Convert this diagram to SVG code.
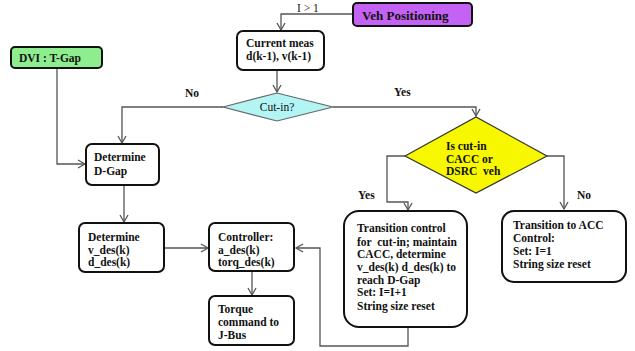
<svg xmlns="http://www.w3.org/2000/svg" width="635" height="351" viewBox="0 0 635 351">
<style>
text{font-family:"Liberation Serif","Times New Roman",serif;font-size:11.5px;fill:#111;font-weight:bold}
.n{font-weight:normal}
.box{fill:#fff;stroke:#111;stroke-width:2}
.c{fill:none;stroke:#555;stroke-width:1.3}
</style>
<defs>
<marker id="a" markerWidth="10" markerHeight="10" refX="8" refY="5" orient="auto" markerUnits="userSpaceOnUse">
<polyline points="1,1 8,5 1,9" fill="none" stroke="#555" stroke-width="1.3"/>
</marker>
</defs>
<rect width="635" height="351" fill="#fff"/>
<g id="connectors">
<polyline class="c" points="353,14 281,14 281,30" marker-end="url(#a)"/>
<line class="c" x1="277" y1="70" x2="277" y2="92" marker-end="url(#a)"/>
<polyline class="c" points="223,107 122,107 122,143" marker-end="url(#a)"/>
<polyline class="c" points="333,107 476,107 476,116" marker-end="url(#a)"/>
<polyline class="c" points="57,68 57,164 85,164" marker-end="url(#a)"/>
<line class="c" x1="124" y1="185" x2="124" y2="222" marker-end="url(#a)"/>
<line class="c" x1="164" y1="248" x2="208" y2="248" marker-end="url(#a)"/>
<line class="c" x1="252" y1="271" x2="252" y2="295" marker-end="url(#a)"/>
<polyline class="c" points="405,156 387,156 387,202 408,202 408,210" marker-end="url(#a)"/>
<polyline class="c" points="547,156 564,156 564,209" marker-end="url(#a)"/>
<polyline class="c" points="408,327 408,346 320,346 320,248 296,248" marker-end="url(#a)"/>
<text x="297" y="12" class="n">I &gt; 1</text>
<text x="185" y="97">No</text>
<text x="394" y="96">Yes</text>
<text x="358" y="199">Yes</text>
<text x="577" y="199">No</text>
</g>
<g id="veh">
<rect x="353" y="3" width="119" height="23" rx="4" fill="#c462f4" stroke="#111" stroke-width="2"/>
<text x="362" y="20" style="font-size:13px">Veh Positioning</text>
</g>
<g id="current">
<rect class="box" x="237" y="31" width="87" height="39" rx="6"/>
<text x="246" y="47">Current meas</text>
<text x="246" y="60">d(k-1), v(k-1)</text>
</g>
<g id="cutin">
<polygon points="223,107 277,93 333,107 277,121" fill="#b3f4f4" stroke="#666" stroke-width="1.2"/>
<text x="277" y="111" class="n" text-anchor="middle">Cut-in?</text>
</g>
<g id="dvi">
<rect x="11" y="47" width="91" height="21" rx="4" fill="#8eed8e" stroke="#111" stroke-width="2"/>
<text x="19" y="62">DVI : T-Gap</text>
</g>
<g id="dgap">
<rect class="box" x="86" y="144" width="73" height="41" rx="6"/>
<text x="94" y="161">Determine</text>
<text x="94" y="175">D-Gap</text>
</g>
<g id="vdes">
<rect class="box" x="79" y="223" width="85" height="49" rx="6"/>
<text x="88" y="241">Determine</text>
<text x="88" y="254">v_des(k)</text>
<text x="88" y="266">d_des(k)</text>
</g>
<g id="controller">
<rect class="box" x="209" y="223" width="85" height="48" rx="6"/>
<text x="218" y="241">Controller:</text>
<text x="218" y="254">a_des(k)</text>
<text x="218" y="266">torq_des(k)</text>
</g>
<g id="torque">
<rect class="box" x="209" y="296" width="85" height="49" rx="6"/>
<text x="218" y="313">Torque</text>
<text x="218" y="326">command to</text>
<text x="218" y="339">J-Bus</text>
</g>
<g id="iscutin">
<polygon points="405,156 476,117 547,156 476,193" fill="#f7f700" stroke="#333" stroke-width="1.2"/>
<text x="446" y="150">Is cut-in</text>
<text x="446" y="163">CACC or</text>
<text x="446" y="175" xml:space="preserve">DSRC  veh</text>
</g>
<g id="transition">
<rect class="box" x="344" y="211" width="123" height="116" rx="15"/>
<text x="357" y="232">Transition control</text>
<text x="357" y="246" xml:space="preserve">for  cut-in; maintain</text>
<text x="357" y="258">CACC, determine</text>
<text x="357" y="271">v_des(k) d_des(k) to</text>
<text x="357" y="284">reach D-Gap</text>
<text x="357" y="296">Set: I=I+1</text>
<text x="357" y="310">String size reset</text>
</g>
<g id="acc">
<rect class="box" x="502" y="211" width="124" height="71" rx="12"/>
<text x="513" y="229">Transition to ACC</text>
<text x="513" y="242">Control:</text>
<text x="513" y="255">Set: I=1</text>
<text x="513" y="268">String size reset</text>
</g>
</svg>
